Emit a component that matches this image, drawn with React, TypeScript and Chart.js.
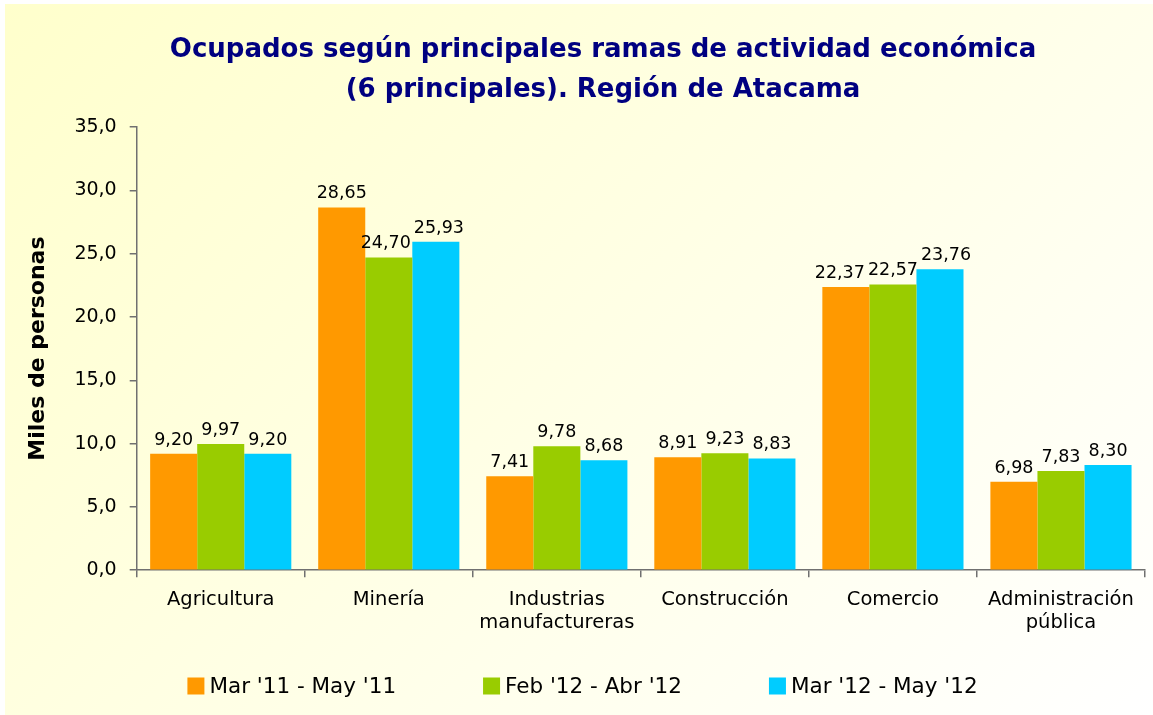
import React, { useEffect, useRef } from "react";
import { Chart, registerables } from "chart.js";

Chart.register(...registerables);

const categories: string[][] = [
  ["Agricultura"],
  ["Minería"],
  ["Industrias", "manufactureras"],
  ["Construcción"],
  ["Comercio"],
  ["Administración", "pública"],
];
const seriesNames = ["Mar '11 - May '11", "Feb '12 - Abr '12", "Mar '12 - May '12"];
const mar11May11 = [9.2, 28.65, 7.41, 8.91, 22.37, 6.98];
const feb12Abr12 = [9.97, 24.7, 9.78, 9.23, 22.57, 7.83];
const mar12May12 = [9.2, 25.93, 8.68, 8.83, 23.76, 8.3];
const seriesColors = ["#FF9900", "#99CC00", "#00CCFF"];
const titleLines = [
  "Ocupados según principales ramas de actividad económica",
  "(6 principales). Región de Atacama",
];
const yAxisTitle = "Miles de personas";
const yMin = 0;
const yMax = 35;
const yStep = 5;

const FONT = "'DejaVu Sans', sans-serif";

const fmt2 = (v: number) => v.toFixed(2).replace(".", ",");
const fmt1 = (v: number) => v.toFixed(1).replace(".", ",");

const valueLabels = {
  id: "valueLabels",
  afterDatasetsDraw(chart: any) {
    const ctx = chart.ctx;
    ctx.save();
    ctx.font = `17.5px ${FONT}`;
    ctx.fillStyle = "#000000";
    ctx.textAlign = "center";
    ctx.textBaseline = "alphabetic";
    const nCat = chart.data.labels.length;
    const nDs = chart.data.datasets.length;
    for (let j = 0; j < nCat; j++) {
      const labels: any[] = [];
      for (let i = 0; i < nDs; i++) {
        const bar = chart.getDatasetMeta(i).data[j];
        const text = fmt2(chart.data.datasets[i].data[j]);
        labels.push({ text, x: bar.x, y: bar.y - 9, w: ctx.measureText(text).width });
      }
      // simple push-apart of neighbouring labels at similar heights
      for (let it = 0; it < 6; it++) {
        for (let k = 0; k < labels.length - 1; k++) {
          const a = labels[k];
          const b = labels[k + 1];
          if (Math.abs(a.y - b.y) < 18) {
            const overlap = a.x + a.w / 2 + 3 - (b.x - b.w / 2);
            if (overlap > 0) {
              a.x -= overlap / 2;
              b.x += overlap / 2;
            }
          }
        }
      }
      labels.forEach((l) => ctx.fillText(l.text, l.x, l.y));
    }
    ctx.restore();
  },
};

const customTitle = {
  id: "customTitle",
  afterDraw(chart: any) {
    const ctx = chart.ctx;
    ctx.save();
    ctx.font = `bold 26px ${FONT}`;
    ctx.fillStyle = "#000080";
    ctx.textAlign = "center";
    ctx.textBaseline = "alphabetic";
    const cx = chart.width * 0.523;
    titleLines.forEach((line, i) => {
      ctx.fillText(line, cx, 57 + i * 40);
    });
    ctx.restore();
  },
};

const customLegend = {
  id: "customLegend",
  afterDraw(chart: any) {
    const ctx = chart.ctx;
    ctx.save();
    ctx.font = `21.5px ${FONT}`;
    ctx.textBaseline = "middle";
    ctx.textAlign = "left";
    const box = 17;
    const gapBoxText = 5;
    const itemGap = 87;
    const items = chart.data.datasets.map((ds: any) => ({
      text: ds.label,
      color: ds.backgroundColor,
      w: box + gapBoxText + ctx.measureText(ds.label).width,
    }));
    const total = items.reduce((s: number, it: any) => s + it.w, 0) + itemGap * (items.length - 1);
    let x = chart.width / 2 + 6 - total / 2;
    const cy = chart.height - 29;
    items.forEach((it: any) => {
      ctx.fillStyle = it.color;
      ctx.fillRect(x, cy - box / 2, box, box);
      ctx.fillStyle = "#000000";
      ctx.fillText(it.text, x + box + gapBoxText, cy + 1);
      x += it.w + itemGap;
    });
    ctx.restore();
  },
};

export default function App() {
  const ref = useRef<HTMLCanvasElement | null>(null);
  useEffect(() => {
    document.body.style.margin = "0";
    if (!ref.current) return;
    const chart = new Chart(ref.current, {
      type: "bar",
      data: {
        labels: categories,
        datasets: [mar11May11, feb12Abr12, mar12May12].map((d, i) => ({
          label: seriesNames[i],
          data: d,
          backgroundColor: seriesColors[i],
          borderWidth: 0,
          barPercentage: 1,
          categoryPercentage: 0.84,
        })),
      },
      options: {
        animation: false,
        responsive: false,
        maintainAspectRatio: false,
        layout: { padding: { left: 20, right: 8, top: 127, bottom: 69 } },
        plugins: {
          title: { display: false },
          tooltip: { enabled: false },
          legend: { display: false },
        },
        scales: {
          x: {
            grid: {
              display: true,
              drawOnChartArea: false,
              drawTicks: true,
              tickLength: 7,
              color: "#707070",
              lineWidth: 1.5,
              offset: true,
            },
            border: { color: "#707070", width: 1.5 },
            ticks: {
              font: { family: FONT, size: 19.5 },
              color: "#000000",
              padding: 11,
              maxRotation: 0,
              autoSkip: false,
            },
          },
          y: {
            min: yMin,
            max: yMax,
            grid: {
              display: true,
              drawOnChartArea: false,
              drawTicks: true,
              tickLength: 7,
              color: "#707070",
              lineWidth: 1.5,
            },
            border: { color: "#707070", width: 1.5 },
            ticks: {
              stepSize: yStep,
              font: { family: FONT, size: 19 },
              color: "#000000",
              padding: 13,
              callback: (v: any) => fmt1(Number(v)),
            },
            title: {
              display: true,
              text: yAxisTitle,
              font: { family: FONT, size: 22, weight: "bold" },
              color: "#000000",
              padding: { top: 5, bottom: 10 },
            },
          },
        },
      },
      plugins: [valueLabels, customTitle, customLegend],
    });
    return () => chart.destroy();
  }, []);

  return (
    <div style={{ position: "fixed", left: 0, top: 0, width: 1153, height: 715, background: "#FFFFFF" }}>
      <div
        style={{
          position: "absolute",
          left: 5,
          top: 4,
          width: 1148,
          height: 711,
          background: "linear-gradient(135deg, #FFFFCC 0%, #FFFFE8 55%, #FFFFFF 100%)",
        }}
      />
      <canvas
        ref={ref}
        width={1153}
        height={715}
        style={{ position: "absolute", left: 0, top: 0, width: 1153, height: 715 }}
      />
    </div>
  );
}
